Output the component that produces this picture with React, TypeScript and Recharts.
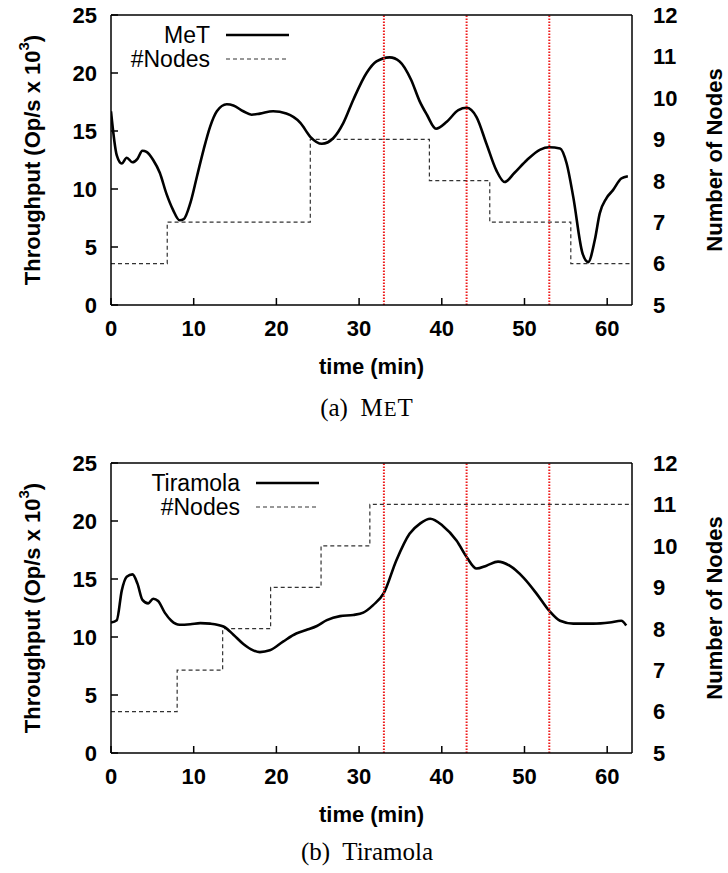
import { Label, Line, LineChart, ReferenceLine, XAxis, YAxis } from "recharts";

const timeTicks = [0, 10, 20, 30, 40, 50, 60];
const throughputTicks = [0, 5, 10, 15, 20, 25];
const nodeTicks = [5, 6, 7, 8, 9, 10, 11, 12];
const markerTimes = [33, 43, 53];

// MeT run
const metTime = [
  0, 0.7, 1.3, 1.9, 2.6, 3.2, 3.8, 4.3, 5.1, 5.9, 6.7, 7.5, 8.3, 8.8, 9.6, 10.4, 11.2, 12.0, 12.8, 14.0, 14.8,
  16.0, 17.0, 18.0, 19.6, 21.2, 22.9, 24.1, 25.5, 26.9, 28.1, 29.3, 30.9, 32.1, 33.7, 34.9, 36.3, 37.3, 38.2,
  39.3, 40.6, 42.0, 43.0, 44.2, 45.4, 46.6, 47.6, 48.8, 50.3, 51.9, 53.0, 54.3, 55.1, 55.9, 57.0, 57.7, 58.5,
  59.1, 59.9, 60.7, 61.7, 62.5
];
const metThroughput = [
  16.7, 12.9, 12.2, 12.7, 12.3, 12.6, 13.3, 13.2, 12.5, 11.4, 9.6, 8.2, 7.3, 7.4, 8.8, 11.1, 13.4, 15.4, 16.7, 17.3,
  17.2, 16.7, 16.4, 16.5, 16.7, 16.5, 15.7, 14.5, 13.9, 14.4, 15.7, 17.7, 20.0, 21.0, 21.35, 21.0, 19.4, 17.6, 16.4,
  15.2, 15.8, 16.8, 17.0, 16.2, 13.9, 11.6, 10.6, 11.4, 12.5, 13.4, 13.6, 13.5, 12.2, 9.3, 4.5, 3.7, 5.6, 7.9, 9.2,
  9.9, 10.9, 11.1
];
const metStepTime = [0, 6.8, 24.1, 38.5, 45.8, 55.6, 63];
const metNodes = [6, 7, 9, 8, 7, 6, 6];

// Tiramola run
const tiramolaTime = [
  0, 0.7, 1.3, 1.9, 2.6, 3.2, 3.8, 4.5, 5.1, 5.7, 6.5, 7.3, 8.3, 9.6, 10.8, 12.0, 13.6, 14.8, 16.0, 17.2, 18.0,
  19.2, 20.8, 22.4, 23.6, 24.9, 26.1, 27.7, 29.3, 30.5, 31.7, 33.0, 34.5, 36.1, 37.4, 38.6, 40.1, 41.8, 43.0, 44.2,
  45.4, 46.8, 48.2, 49.9, 51.5, 53.0, 54.3, 55.9, 58.3, 60.3, 61.7, 62.3
];
const tiramolaThroughput = [
  11.25, 11.45, 14.0, 15.2, 15.4, 14.6, 13.2, 12.9, 13.3, 13.1, 12.1, 11.4, 11.05, 11.1, 11.2, 11.15, 10.9, 10.2,
  9.4, 8.85, 8.7, 8.85, 9.6, 10.3, 10.6, 10.95, 11.45, 11.8, 11.9, 12.1, 12.75, 13.8, 16.6, 18.9, 19.8, 20.2, 19.6,
  18.3, 16.9, 15.9, 16.15, 16.5, 16.15, 15.1, 13.7, 12.25, 11.4, 11.15, 11.15, 11.25, 11.4, 11.0
];
const tiramolaStepTime = [0, 8.0, 13.5, 19.3, 25.4, 31.3, 63];
const tiramolaNodes = [6, 7, 8, 9, 10, 11, 11];

const sans = '"Liberation Sans", Arial, Helvetica, sans-serif';
const serif = '"Liberation Serif", "Times New Roman", serif';
const tickFont = { fill: "#000", fontFamily: sans, fontSize: 22, fontWeight: 700 };
const frame = { stroke: "#000", strokeWidth: 1.5 };

function zip(t: number[], key: string, v: number[]) {
  return t.map((x, i) => ({ t: x, [key]: v[i] }));
}

function ThroughputTitle({ viewBox }: any) {
  const cy = viewBox.y + viewBox.height / 2;
  return (
    <text
      x={32}
      y={cy}
      transform={`rotate(-90, 32, ${cy})`}
      textAnchor="middle"
      dominantBaseline="central"
      fontFamily={sans}
      fontSize={22}
      fontWeight={700}
    >
      Throughput (Op/s x 10
      <tspan dy={-9} fontSize={15}>3</tspan>
      <tspan dy={9}>)</tspan>
    </text>
  );
}

function NodesTitle({ viewBox }: any) {
  const cy = viewBox.y + viewBox.height / 2;
  return (
    <text
      x={714}
      y={cy}
      transform={`rotate(-90, 714, ${cy})`}
      textAnchor="middle"
      dominantBaseline="central"
      fontFamily={sans}
      fontSize={22}
      fontWeight={700}
    >
      Number of Nodes
    </text>
  );
}

function TimeTitle({ viewBox }: any) {
  return (
    <text x={viewBox.x + viewBox.width / 2} y={374} textAnchor="middle" fontFamily={sans} fontSize={22} fontWeight={700}>
      time (min)
    </text>
  );
}

function SeriesKey({ name, right }: { name: string; right: number }) {
  return (
    <g fontFamily={sans} fontSize={23}>
      <text x={right} y={43} textAnchor="end">
        {name}
      </text>
      <line x1={right + 16} x2={right + 79} y1={35} y2={35} stroke="#000" strokeWidth={2.6} />
      <text x={right} y={67} textAnchor="end">
        #Nodes
      </text>
      <line x1={right + 16} x2={right + 79} y1={59} y2={59} stroke="#333" strokeWidth={1.2} strokeDasharray="4 3" />
    </g>
  );
}

function Panel({ name, keyRight, caption, captionY, throughput, nodes }: any) {
  return (
    <LineChart width={728} height={448} margin={{ top: 14, right: 0, bottom: 103, left: 0 }}>
      <XAxis
        xAxisId="bottom"
        type="number"
        dataKey="t"
        domain={[0, 63]}
        ticks={timeTicks}
        allowDataOverflow
        height={40}
        tickSize={-7}
        tickMargin={22}
        tick={tickFont}
        axisLine={frame}
        tickLine={frame}
      >
        <Label content={TimeTitle} />
      </XAxis>
      <XAxis
        xAxisId="top"
        orientation="top"
        type="number"
        dataKey="t"
        domain={[0, 63]}
        ticks={timeTicks}
        allowDataOverflow
        height={1}
        tickSize={-7}
        tick={false}
        axisLine={frame}
        tickLine={frame}
      />
      <YAxis
        yAxisId="left"
        type="number"
        domain={[0, 25]}
        ticks={throughputTicks}
        width={111}
        tickSize={-7}
        tickMargin={21}
        tick={tickFont}
        axisLine={frame}
        tickLine={frame}
      >
        <Label content={ThroughputTitle} />
      </YAxis>
      <YAxis
        yAxisId="right"
        orientation="right"
        type="number"
        domain={[5, 12]}
        ticks={nodeTicks}
        width={96}
        tickSize={8}
        tickMargin={13}
        tickLine={false}
        tick={{ ...tickFont, textAnchor: "start" }}
        axisLine={frame}
      >
        <Label content={NodesTitle} />
      </YAxis>
      <Line
        xAxisId="bottom"
        yAxisId="right"
        data={nodes}
        dataKey="nodes"
        type="stepAfter"
        stroke="#333"
        strokeWidth={1.2}
        strokeDasharray="4 3"
        dot={false}
        isAnimationActive={false}
      />
      <Line
        xAxisId="bottom"
        yAxisId="left"
        data={throughput}
        dataKey="throughput"
        type="monotone"
        stroke="#000"
        strokeWidth={2.6}
        dot={false}
        isAnimationActive={false}
      />
      {markerTimes.map((m) => (
        <ReferenceLine
          key={m}
          x={m}
          xAxisId="bottom"
          yAxisId="left"
          stroke="#ee1c1c"
          strokeWidth={2}
          strokeDasharray="1.5 1.5"
        />
      ))}
      <SeriesKey name={name} right={keyRight} />
      <text x={367} y={captionY} textAnchor="middle" fontFamily={serif} fontSize={25}>
        {caption}
      </text>
    </LineChart>
  );
}

export default function App() {
  return (
    <div style={{ position: "absolute", left: 0, top: 0, width: 728, height: 873, background: "#fff" }}>
      <Panel
        name="MeT"
        keyRight={210}
        captionY={416}
        caption={
          <>
            (a){"\u00a0 "}
            <tspan letterSpacing={1}>
              M<tspan fontSize={21}>E</tspan>T
            </tspan>
          </>
        }
        throughput={zip(metTime, "throughput", metThroughput)}
        nodes={zip(metStepTime, "nodes", metNodes)}
      />
      <Panel
        name="Tiramola"
        keyRight={240}
        captionY={412}
        caption={<>(b){"\u00a0 "}Tiramola</>}
        throughput={zip(tiramolaTime, "throughput", tiramolaThroughput)}
        nodes={zip(tiramolaStepTime, "nodes", tiramolaNodes)}
      />
    </div>
  );
}
